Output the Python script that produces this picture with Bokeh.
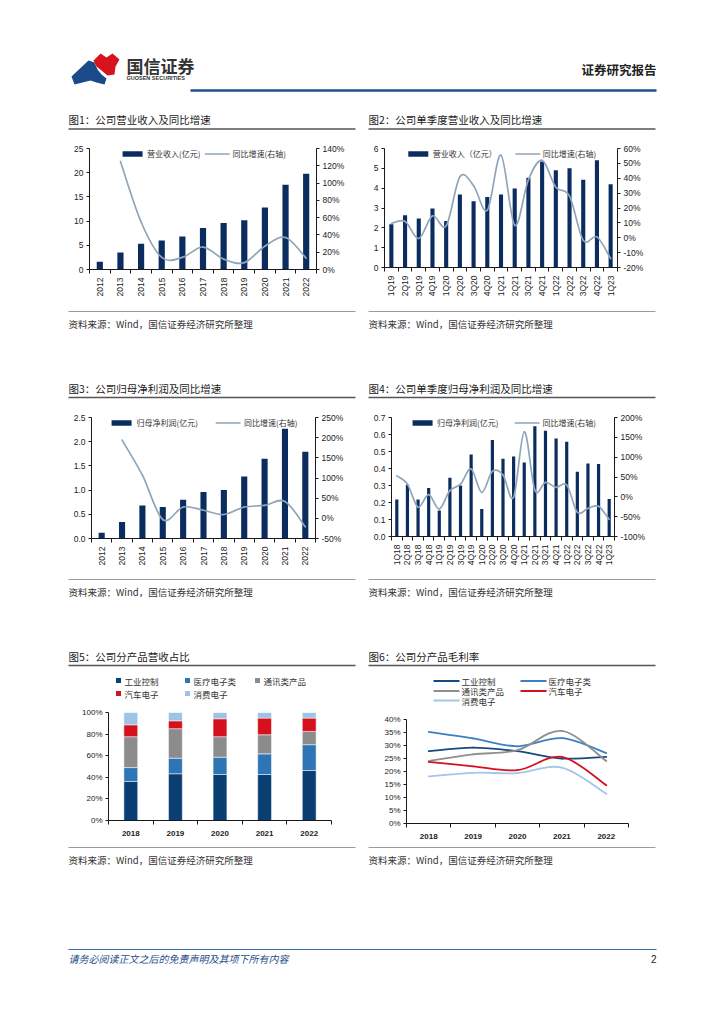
import math
from bokeh.plotting import figure
from bokeh.models import (Range1d, LinearAxis, FixedTicker, PrintfTickFormatter,
                          NumeralTickFormatter, Legend, LegendItem, ColumnDataSource)
from bokeh.layouts import column, row
from bokeh.core.properties import value
from bokeh.embed import file_html
from bokeh.resources import INLINE

# ---------------- data ----------------
years_a = ["2012", "2013", "2014", "2015", "2016", "2017", "2018", "2019", "2020", "2021", "2022"]
revenue = [1.6, 3.5, 5.3, 6.0, 6.8, 8.6, 9.6, 10.2, 12.8, 17.5, 19.8]
revenue_yoy = [None, 125, 55, 14, 14, 26, 12, 8, 27, 37, 13]

quarters_19 = ["1Q19", "2Q19", "3Q19", "4Q19", "1Q20", "2Q20", "3Q20", "4Q20", "1Q21", "2Q21",
               "3Q21", "4Q21", "1Q22", "2Q22", "3Q22", "4Q22", "1Q23"]
q_revenue = [2.18, 2.64, 2.47, 2.97, 2.34, 3.68, 3.34, 3.56, 3.68, 3.98, 4.52, 5.35, 4.90, 5.00, 4.42, 5.41, 4.20]
q_revenue_yoy = [9.6, 11, -0.5, 14.7, 8, 41, 35, 18.5, 55.5, 8.4, 39, 52, 34, 28, -1.7, 0.6, -14]

profit = [0.12, 0.34, 0.68, 0.65, 0.80, 0.96, 1.00, 1.28, 1.65, 2.27, 1.79]
profit_yoy = [None, 194, 107, -3, 28, 20, 9.5, 28, 32, 42, -21]

quarters_18 = ["1Q18", "2Q18", "3Q18", "4Q18", "1Q19", "2Q19", "3Q19", "4Q19", "1Q20", "2Q20", "3Q20",
               "4Q20", "1Q21", "2Q21", "3Q21", "4Q21", "1Q22", "2Q22", "3Q22", "4Q22", "1Q23"]
q_profit = [0.217, 0.305, 0.217, 0.286, 0.153, 0.346, 0.30, 0.483, 0.162, 0.567, 0.458, 0.47, 0.436,
            0.648, 0.622, 0.577, 0.558, 0.381, 0.43, 0.427, 0.221]
q_profit_yoy = [53, 32, -26, 5.5, -30.5, 15.6, 32, 70, 11.4, 64, 55, -1, 164, 17, 36.5, 24, 30,
                -39, -29, -24, -57]

years_b = ["2018", "2019", "2020", "2021", "2022"]
segments = ["工业控制", "医疗电子类", "通讯类产品", "汽车电子", "消费电子"]
share_industrial = [36.2, 43.3, 42.6, 42.6, 46.3]
share_medical = [12.8, 14.4, 16.0, 19.1, 23.9]
share_telecom = [28.6, 27.3, 19.0, 17.7, 12.3]
share_auto = [11.0, 7.3, 16.6, 15.4, 12.3]
share_consumer = [11.4, 7.7, 5.8, 5.2, 5.2]

margin_industrial = [27.8, 29.2, 27.8, 25.0, 25.6]
margin_medical = [35.2, 32.7, 29.7, 32.8, 27.1]
margin_telecom = [24.0, 26.6, 28.2, 35.6, 24.0]
margin_auto = [23.7, 22.0, 20.5, 25.6, 14.7]
margin_consumer = [18.1, 19.5, 19.4, 21.5, 11.4]

# ---------------- style ----------------
CJK = "Noto Sans CJK SC"
LAT = "Liberation Sans"
NAVY = "#0b2c5e"
LINEC = "#8ea5ba"
SEG_COLORS5 = ["#0a3f74", "#2e75b6", "#8c8c8c", "#d4111d", "#9dc3e6"]
SEG_COLORS6 = ["#174a7c", "#3a80c4", "#8f8f8f", "#d4111d", "#a3c6ea"]
AX = "#1a1a1a"
PAGEW = 716
LW = 362   # left column width
RW = 354   # right column width


def deco(w, h):
    p = figure(width=w, height=h, x_range=Range1d(0, w), y_range=Range1d(h, 0),
               toolbar_location=None, tools="", output_backend="svg", min_border=0,
               x_axis_location=None, y_axis_location=None)
    p.grid.visible = False
    p.outline_line_color = None
    p.background_fill_color = "white"
    p.border_fill_color = "white"
    return p


def txt(p, x, y, s, size, color="#222", font=CJK, align="left", style="normal"):
    p.text(x=[x], y=[y], text=[s], text_font=value(font), text_font_size=size,
           text_color=color, text_align=align, text_baseline="middle", text_font_style=style)


def hline(p, x0, x1, y, color, width):
    p.segment(x0=[x0], y0=[y], x1=[x1], y1=[y], line_color=color, line_width=width)


def smooth_segments(xs, ys):
    pts = [(x, y) for x, y in zip(xs, ys) if y is not None]
    n = len(pts)
    out = dict(x0=[], y0=[], x1=[], y1=[], cx0=[], cy0=[], cx1=[], cy1=[])
    for i in range(n - 1):
        p0 = pts[max(i - 1, 0)]
        p1 = pts[i]
        p2 = pts[i + 1]
        p3 = pts[min(i + 2, n - 1)]
        out["x0"].append(p1[0]); out["y0"].append(p1[1])
        out["x1"].append(p2[0]); out["y1"].append(p2[1])
        out["cx0"].append(p1[0] + (p2[0] - p0[0]) / 6.0)
        out["cy0"].append(p1[1] + (p2[1] - p0[1]) / 6.0)
        out["cx1"].append(p2[0] - (p3[0] - p1[0]) / 6.0)
        out["cy1"].append(p2[1] - (p3[1] - p1[1]) / 6.0)
    return ColumnDataSource(out)


def ticks(a, b, step):
    n = int(round((b - a) / step))
    return [round(a + k * step, 6) for k in range(n + 1)]


def style_y(ax, size="8.5px"):
    ax.axis_line_color = AX
    ax.major_tick_line_color = AX
    ax.major_tick_out = 3
    ax.major_tick_in = 0
    ax.minor_tick_line_color = None
    ax.major_label_text_font = LAT
    ax.major_label_text_font_size = size
    ax.major_label_text_color = "#222"
    ax.major_label_standoff = 3


def style_x_cat(p, cats, rotate, size="8.5px", style="normal", standoff=4):
    n = len(cats)
    ax = p.xaxis[0]
    ax.ticker = FixedTicker(ticks=list(range(n)), minor_ticks=[i - 0.5 for i in range(n + 1)])
    ax.major_label_overrides = {i: c for i, c in enumerate(cats)}
    ax.axis_line_color = AX
    ax.major_tick_line_color = None
    ax.major_tick_out = 0
    ax.major_tick_in = 0
    ax.minor_tick_line_color = AX
    ax.minor_tick_out = 4
    ax.minor_tick_in = 0
    ax.major_label_text_font = LAT
    ax.major_label_text_font_size = size
    ax.major_label_text_font_style = style
    ax.major_label_text_color = "#222"
    ax.major_label_standoff = standoff
    if rotate:
        ax.major_label_orientation = math.pi / 2


def frame_fig(W, H, l, t, fw, fh, n, yr):
    p = figure(width=W, height=H, toolbar_location=None, tools="", output_backend="svg",
               min_border_left=l, min_border_right=W - l - fw,
               min_border_top=t, min_border_bottom=H - t - fh,
               x_range=Range1d(-0.5, n - 0.5), y_range=Range1d(*yr))
    p.grid.visible = False
    p.outline_line_color = None
    p.background_fill_color = "white"
    p.border_fill_color = "white"
    return p


def bar_line_chart(W, cats, bars, growth, yr, ystep, yfmt, rr, rstep, frame, lab_bar, lab_line, spacing):
    l, t, fw, fh = frame
    n = len(cats)
    p = frame_fig(W, 165, l, t, fw, fh, n, yr)
    xs = list(range(n))
    rb = p.vbar(x=xs, top=bars, width=0.3, fill_color=NAVY, line_color=None)
    p.extra_y_ranges = {"r": Range1d(*rr)}
    rl = p.bezier(source=smooth_segments(xs, growth), x0="x0", y0="y0", x1="x1", y1="y1",
                  cx0="cx0", cy0="cy0", cx1="cx1", cy1="cy1", line_color=LINEC, line_width=1.7,
                  line_cap="round", y_range_name="r")
    p.yaxis[0].ticker = FixedTicker(ticks=ticks(yr[0], yr[1], ystep))
    p.yaxis[0].formatter = NumeralTickFormatter(format=yfmt)
    style_y(p.yaxis[0])
    rax = LinearAxis(y_range_name="r", ticker=FixedTicker(ticks=ticks(rr[0], rr[1], rstep)),
                     formatter=PrintfTickFormatter(format="%d%%"))
    style_y(rax)
    p.add_layout(rax, "right")
    style_x_cat(p, cats, rotate=True)
    leg = Legend(items=[LegendItem(label=lab_bar, renderers=[rb]),
                        LegendItem(label=lab_line, renderers=[rl])],
                 location="top_center", orientation="horizontal",
                 border_line_color=None, background_fill_alpha=0, padding=0, margin=0,
                 spacing=spacing, glyph_width=25, glyph_height=7, label_height=8,
                 label_standoff=3, label_text_font=CJK, label_text_font_size="8px",
                 label_text_color="#333")
    p.add_layout(leg)
    return p


def top_deco(t_left, t_right, h=40, ty=19, uy=28.5):
    d = deco(PAGEW, h)
    for x0, title in ((68, t_left), (368, t_right)):
        txt(d, x0, ty, title, "10.5px", color="#1a1a1a")
        hline(d, x0, x0 + 287, uy, "#555", 1.3)
    return d


def bottom_deco(h=63, ly=6, ty=18):
    d = deco(PAGEW, h)
    for x0 in (68, 368):
        hline(d, x0, x0 + 287, ly, "#9a9a9a", 1)
        txt(d, x0, ty, "资料来源：Wind，国信证券经济研究所整理", "9.5px", color="#333")
    return d


def pair(a, b):
    return row(column(a), column(b), spacing=0)


# ---------------- header ----------------
hdr = deco(PAGEW, 100)
hdr.patch(x=[71, 88, 94, 97, 101, 106, 104, 96, 90, 82, 74], y=[76, 60, 62, 69, 74, 78, 84, 82, 80, 82, 84],
          fill_color="#1b4a8a", line_color=None)
hdr.patch(x=[93, 100, 106, 112, 119, 115, 114, 107, 101, 96], y=[60, 53, 57, 53, 59, 66, 74, 75, 70, 66],
          fill_color="#d7141e", line_color=None)
txt(hdr, 126, 64.5, "国信证券", "17px", color="#333", style="bold")
txt(hdr, 126, 77.5, "GUOSEN SECURITIES", "5.5px", color="#333", font=LAT, style="bold")
txt(hdr, 656, 69, "证券研究报告", "12.5px", color="#222", align="right", style="bold")
hline(hdr, 190, 656, 90, "#1f4f8f", 2.5)

# ---------------- charts 1-4 ----------------
c1 = bar_line_chart(LW, years_a, revenue, revenue_yoy, (0, 25), 5, "0", (0, 140), 20,
                    (89, 8, 227, 121), "营业收入(亿元)", "同比增速(右轴)", 4)
c2 = bar_line_chart(RW, quarters_19, q_revenue, q_revenue_yoy, (0, 6), 1, "0", (-20, 60), 10,
                    (22, 8, 233, 119), "营业收入（亿元）", "同比增速(右轴)", 18)
c3 = bar_line_chart(LW, years_a, profit, profit_yoy, (0, 2.5), 0.5, "0.0", (-50, 250), 50,
                    (91, 9, 224, 121), "归母净利润(亿元)", "同比增速(右轴)", 18)
c4 = bar_line_chart(RW, quarters_18, q_profit, q_profit_yoy, (0, 0.7), 0.1, "0.0", (-100, 200), 50,
                    (29, 9, 223, 119), "归母净利润(亿元)", "同比增速(右轴)", 16)

# ---------------- chart 5: stacked shares ----------------
c5 = frame_fig(LW, 140, 108, 6, 223, 108, len(years_b), (0, 100))
keys5 = ["s0", "s1", "s2", "s3", "s4"]
src5 = ColumnDataSource(dict(x=list(range(len(years_b))), s0=share_industrial, s1=share_medical,
                             s2=share_telecom, s3=share_auto, s4=share_consumer))
c5.vbar_stack(keys5, x="x", width=0.31, color=SEG_COLORS5, line_color="white", line_width=0.5,
              source=src5)
c5.yaxis[0].ticker = FixedTicker(ticks=ticks(0, 100, 20))
c5.yaxis[0].formatter = PrintfTickFormatter(format="%d%%")
style_y(c5.yaxis[0], size="8px")
style_x_cat(c5, years_b, rotate=False, size="8px", style="bold", standoff=6)

# ---------------- chart 6: margins ----------------
c6 = frame_fig(RW, 140, 44, 13, 222, 104, len(years_b), (0, 40))
margins = [margin_industrial, margin_medical, margin_telecom, margin_auto, margin_consumer]
xs6 = list(range(len(years_b)))
for ser, col in zip(margins, SEG_COLORS6):
    c6.bezier(source=smooth_segments(xs6, ser), x0="x0", y0="y0", x1="x1", y1="y1",
              cx0="cx0", cy0="cy0", cx1="cx1", cy1="cy1", line_color=col, line_width=1.8,
              line_cap="round")
c6.yaxis[0].ticker = FixedTicker(ticks=ticks(0, 40, 5))
c6.yaxis[0].formatter = PrintfTickFormatter(format="%d%%")
style_y(c6.yaxis[0], size="8px")
style_x_cat(c6, years_b, rotate=False, size="8px", style="bold", standoff=6)

# ---------------- block decorations ----------------
t12 = top_deco("图1：公司营业收入及同比增速", "图2：公司单季度营业收入及同比增速", ty=18.5, uy=28.5)
t34 = top_deco("图3：公司归母净利润及同比增速", "图4：公司单季度归母净利润及同比增速", ty=19.5, uy=29)
t56 = top_deco("图5：公司分产品营收占比", "图6：公司分产品毛利率", h=70, ty=20, uy=29)

# legend for chart 5 (squares)
leg5_pos = [(118, 44), (187, 44), (257, 44), (118, 57), (187, 57)]
for (lx, ly), name, col in zip(leg5_pos, segments, SEG_COLORS5):
    t56.rect(x=[lx], y=[ly], width=5, height=5, fill_color=col, line_color=None)
    txt(t56, lx + 6, ly, name, "8.5px", color="#333")

# legend for chart 6 (lines)
leg6_pos = [(433, 44.5), (520, 44.5), (433, 54.5), (520, 54.5), (433, 64)]
for (lx, ly), name, col in zip(leg6_pos, segments, SEG_COLORS6):
    t56.segment(x0=[lx], y0=[ly], x1=[lx + 26], y1=[ly], line_color=col, line_width=1.8)
    txt(t56, lx + 28, ly, name, "8.5px", color="#333")

b12 = bottom_deco()
b34 = bottom_deco()
b56 = bottom_deco(h=58, ly=1, ty=13)

# ---------------- footer ----------------
ftr = deco(PAGEW, 112)
hline(ftr, 68, 656, 45, "#3d6ea5", 1.2)
txt(ftr, 68, 54, "请务必阅读正文之后的免责声明及其项下所有内容", "10px", color="#1f4e8c", style="italic")
txt(ftr, 656, 54, "2", "10px", color="#222", font=LAT, align="right")

page = column(
    hdr,
    t12, pair(c1, c2), b12,
    t34, pair(c3, c4), b34,
    t56, pair(c5, c6), b56,
    ftr,
    spacing=0,
)

open("out.html", "w").write(file_html(page, INLINE))
